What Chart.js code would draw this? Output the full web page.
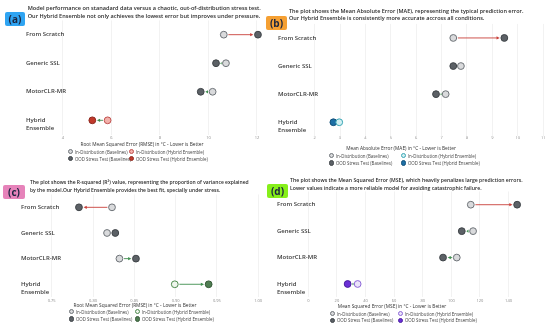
<!DOCTYPE html>
<html>
<head>
<meta charset="utf-8">
<script src="https://cdn.jsdelivr.net/npm/chart.js@4.4.1/dist/chart.umd.min.js"></script>
<style>
  body { margin: 0; background: #fff; font-family: "Open Sans", "Liberation Sans", sans-serif; }
  #page { position: relative; width: 550px; height: 328px; overflow: hidden; background: #fff; }
  canvas { position: absolute; }
  .title { position: absolute; font-weight: 600; color: #2a2a2a; white-space: nowrap; }
  .badge { position: absolute; font-size: 10px; font-weight: 700; color: #1b2540; text-align: center; border-radius: 2px; }
  .axt { position: absolute; width: 220px; text-align: center; font-size: 4.8px; color: #333; white-space: nowrap; }
  .leg { position: absolute; font-size: 4.4px; color: #444; white-space: nowrap; line-height: 6px; }
  .leg i { display: inline-block; width: 3.4px; height: 3.4px; border-radius: 50%; border: 0.8px solid; vertical-align: -0.8px; margin-right: 2px; }
</style>
</head>
<body>
<div id="page"></div>
<script>
// row categories
const models = ['From Scratch', 'Generic SSL', 'MotorCLR-MR', 'Hybrid Ensemble'];

// (a) RMSE
const rmseId = [10.63, 10.72, 10.17, 5.84];
const rmseOod = [12.04, 10.31, 9.68, 5.21];
const rmseTicks = [4, 6, 8, 10, 12];

// (b) MAE
const maeId = [7.46, 7.76, 7.16, 2.97];
const maeOod = [9.47, 7.46, 6.78, 2.74];
const maeTicks = [2, 3, 4, 5, 6, 7, 8, 9, 10, 11];

// (c) R-squared
const r2Id = [0.823, 0.817, 0.832, 0.899];
const r2Ood = [0.783, 0.827, 0.852, 0.940];
const r2Ticks = [0.75, 0.80, 0.85, 0.90, 0.95, 1.00];

// (d) MSE
const mseId = [113.6, 115.2, 103.8, 34.5];
const mseOod = [146, 107.3, 94.2, 27.5];
const mseTicks = [0, 20, 40, 60, 80, 100, 120, 140];

const legendNames = ['In-Distribution (Baselines)', 'In-Distribution (Hybrid Ensemble)',
                     'OOD Stress Test (Baselines)', 'OOD Stress Test (Hybrid Ensemble)'];

const BASE_ID = { bg: '#d9dadc', bd: '#6e7378' };
const BASE_OOD = { bg: '#5c6166', bd: '#3f4448' };
const WORSE = '#c8403a';
const BETTER = '#3f8f4f';

const panels = [
    {
        key: 'a', x: 0, y: 0, id: rmseId, ood: rmseOod, ticks: rmseTicks, min: 3.3, max: 12.4,
        higherBetter: false,
        area: { left: 46, right: 266.7, top: 20.4, bottom: 134.6 }, labelX: 26, tickPad: 0,
        hyId: { bg: '#f2b1ab', bd: '#c0504d' }, hyOod: { bg: '#c0392b', bd: '#8e2a20' },
        badge: { text: '(a)', bg: '#2fa4f2', left: 5, top: 12, w: 20, h: 14 },
        title: ['Model performance on stanadard data versus a chaotic, out-of-distribution  stress test.',
                'Our Hybrid Ensemble not only achieves the lowest error but improves under pressure.'],
        titlePos: { left: 27.7, top: 4, lh: 8, fs: 5.6 },
        axisTitle: 'Root Mean Squared Error (RMSE) in °C - Lower is Better', axisPos: { cx: 142, cy: 144.3 },
        legend: { c1: 70, c2: 131, r1: 151.7, r2: 158.7 }
    },
    {
        key: 'b', x: 275, y: 0, id: maeId, ood: maeOod, ticks: maeTicks, min: 2, max: 11,
        higherBetter: false,
        area: { left: 39.6, right: 268.2, top: 23.9, bottom: 136.3 }, labelX: 3, tickPad: -2,
        hyId: { bg: '#d2f0f2', bd: '#3aa5b5' }, hyOod: { bg: '#1d6fa5', bd: '#12507a' },
        badge: { text: '(b)', bg: '#f5a033', left: 266, top: 16, w: 21, h: 14 },
        title: ['The plot shows the Mean Absolute Error (MAE), representing the typical prediction error.',
                'Our Hybrid Ensemble is consistently more accurate accross all conditions.'],
        titlePos: { left: 289, top: 7.7, lh: 7.6, fs: 5.5 },
        axisTitle: 'Mean Absolute Error (MAE) in °C - Lower is Better', axisPos: { cx: 401, cy: 148.3 },
        legend: { c1: 331, c2: 403, r1: 155.7, r2: 163 }
    },
    {
        key: 'c', x: 0, y: 164, id: r2Id, ood: r2Ood, ticks: r2Ticks, min: 0.75, max: 1.0,
        higherBetter: true,
        area: { left: 51.7, right: 258.2, top: 30.5, bottom: 133.1 }, labelX: 21, tickPad: 0,
        hyId: { bg: '#eef5ec', bd: '#4e8a4e' }, hyOod: { bg: '#4f7d52', bd: '#365a38' },
        badge: { text: '(c)', bg: '#e683ba', left: 3, top: 185, w: 22, h: 14 },
        title: ['The plot shows the R-squared (R²) value, representing the proportion of variance explained',
                'by the model.Our Hybrid Ensemble provides the best fit, specially under stress.'],
        titlePos: { left: 30, top: 179, lh: 7.7, fs: 5.0 },
        axisTitle: 'Root Mean Squared Error (RMSE) in °C - Lower is Better', axisPos: { cx: 135, cy: 305.7 },
        legend: { c1: 71, c2: 137, r1: 311.7, r2: 319 }
    },
    {
        key: 'd', x: 275, y: 164, id: mseId, ood: mseOod, ticks: mseTicks, min: 0, max: 155,
        higherBetter: false,
        area: { left: 33.3, right: 255, top: 27.5, bottom: 133.2 }, labelX: 2, tickPad: 0,
        hyId: { bg: '#ece4fa', bd: '#8b66d6' }, hyOod: { bg: '#6b2fd6', bd: '#4a1fa0' },
        badge: { text: '(d)', bg: '#86ef1a', left: 267, top: 184, w: 21, h: 14 },
        title: ['The plot shows the Mean Squared Error (MSE), which heavily penalizes large prediction errors.',
                'Lower values indicate a more reliable model for avoiding catastrophic failure.'],
        titlePos: { left: 290, top: 176, lh: 8, fs: 5.15 },
        axisTitle: 'Mean Squared Error (MSE) in °C - Lower is Better', axisPos: { cx: 392, cy: 306.3 },
        legend: { c1: 332, c2: 400, r1: 313.7, r2: 320.3 }
    }
];

const page = document.getElementById('page');
const W = 275, H = 164, X_AXIS_H = 10, R = 3.4;

// arrows from in-distribution to stress-test result, plus row labels
const rowPlugin = {
    id: 'rows',
    beforeDatasetsDraw(chart) {
        const p = chart.config.options.panel;
        const xs = chart.scales.x, ys = chart.scales.y;
        const ctx = chart.ctx;
        ctx.save();
        models.forEach((m, i) => {
            const x1 = xs.getPixelForValue(p.id[i]);
            const x2 = xs.getPixelForValue(p.ood[i]);
            const y = ys.getPixelForValue(i);
            const dir = x2 > x1 ? 1 : -1;
            const len = Math.abs(x2 - x1) - 2 * (R + 1.2);
            if (len <= 0) return;
            const better = p.higherBetter ? p.ood[i] > p.id[i] : p.ood[i] < p.id[i];
            const col = better ? BETTER : WORSE;
            const sx = x1 + dir * (R + 1.2);
            const ex = x2 - dir * (R + 1.2);
            ctx.strokeStyle = col;
            ctx.fillStyle = col;
            ctx.lineWidth = 0.9;
            ctx.beginPath();
            ctx.moveTo(sx, y);
            ctx.lineTo(ex - dir * 2, y);
            ctx.stroke();
            const hl = Math.min(3.2, len);
            ctx.beginPath();
            ctx.moveTo(ex, y);
            ctx.lineTo(ex - dir * hl, y - 1.6);
            ctx.lineTo(ex - dir * hl, y + 1.6);
            ctx.closePath();
            ctx.fill();
        });
        ctx.restore();
    },
    afterDraw(chart) {
        const p = chart.config.options.panel;
        const ys = chart.scales.y;
        const ctx = chart.ctx;
        ctx.save();
        ctx.font = '600 6px "Open Sans"';
        ctx.fillStyle = '#3a3a3a';
        ctx.textAlign = 'left';
        ctx.textBaseline = 'middle';
        models.forEach((m, i) => {
            const y = ys.getPixelForValue(i);
            const lines = m === 'Hybrid Ensemble' ? ['Hybrid', 'Ensemble'] : [m];
            lines.forEach((t, k) => ctx.fillText(t, p.labelX, y + k * 8.4));
        });
        ctx.restore();
    }
};

function addDiv(cls, style, html) {
    const d = document.createElement('div');
    d.className = cls;
    Object.assign(d.style, style);
    d.innerHTML = html;
    page.appendChild(d);
    return d;
}

panels.forEach(p => {
    const cv = document.createElement('canvas');
    cv.width = W; cv.height = H;
    cv.style.left = p.x + 'px'; cv.style.top = p.y + 'px';
    page.appendChild(cv);

    const pt = (arr, idx) => idx.map(i => ({ x: arr[i], y: models[i] }));
    const yW = p.area.left - p.labelX;

    new Chart(cv.getContext('2d'), {
        type: 'scatter',
        data: {
            datasets: [
                { data: pt(p.id, [0, 1, 2]), backgroundColor: BASE_ID.bg, borderColor: BASE_ID.bd },
                { data: pt(p.ood, [0, 1, 2]), backgroundColor: BASE_OOD.bg, borderColor: BASE_OOD.bd },
                { data: pt(p.id, [3]), backgroundColor: p.hyId.bg, borderColor: p.hyId.bd },
                { data: pt(p.ood, [3]), backgroundColor: p.hyOod.bg, borderColor: p.hyOod.bd }
            ]
        },
        options: {
            panel: p,
            responsive: false,
            animation: false,
            devicePixelRatio: 1,
            layout: {
                padding: {
                    left: p.labelX,
                    right: W - p.area.right,
                    top: p.area.top,
                    bottom: H - p.area.bottom - X_AXIS_H
                }
            },
            elements: { point: { radius: R, borderWidth: 1, hoverRadius: R } },
            plugins: { legend: { display: false }, tooltip: { enabled: false } },
            scales: {
                x: {
                    type: 'linear', min: p.min, max: p.max,
                    afterBuildTicks: s => { s.ticks = p.ticks.map(v => ({ value: v })); },
                    afterFit: s => { s.height = X_AXIS_H; },
                    grid: { color: '#ededed', lineWidth: 0.7, drawTicks: false },
                    border: { display: false },
                    ticks: {
                        font: { size: 4, family: 'Open Sans' }, color: '#8a8a8a', padding: 1 + p.tickPad,
                        maxRotation: 0, autoSkip: false,
                        callback: v => p.key === 'c' ? v.toFixed(2) : String(v)
                    }
                },
                y: {
                    type: 'category',
                    labels: models,
                    offset: true,
                    afterFit: s => { s.width = yW; },
                    grid: { display: false },
                    border: { display: false },
                    ticks: { display: false }
                }
            }
        },
        plugins: [rowPlugin]
    });

    // badge
    const b = p.badge;
    addDiv('badge', { left: b.left + 'px', top: b.top + 'px', width: b.w + 'px', height: b.h + 'px',
                      lineHeight: b.h + 'px', background: b.bg }, b.text);
    // title
    addDiv('title', { left: p.titlePos.left + 'px', top: p.titlePos.top + 'px',
                      lineHeight: p.titlePos.lh + 'px', fontSize: p.titlePos.fs + 'px' },
           p.title.join('<br>'));
    // axis title
    addDiv('axt', { left: (p.axisPos.cx - 110) + 'px', top: (p.axisPos.cy - 3.5) + 'px' }, p.axisTitle);
    // legend
    const sw = [BASE_ID, p.hyId, BASE_OOD, p.hyOod];
    const lp = p.legend;
    [[lp.c1, lp.r1], [lp.c2, lp.r1], [lp.c1, lp.r2], [lp.c2, lp.r2]].forEach(([lx, ly], k) => {
        addDiv('leg', { left: (lx - 2.5) + 'px', top: (ly - 3) + 'px' },
               `<i style="background:${sw[k].bg};border-color:${sw[k].bd}"></i>${legendNames[k]}`);
    });
});
</script>
</body>
</html>
